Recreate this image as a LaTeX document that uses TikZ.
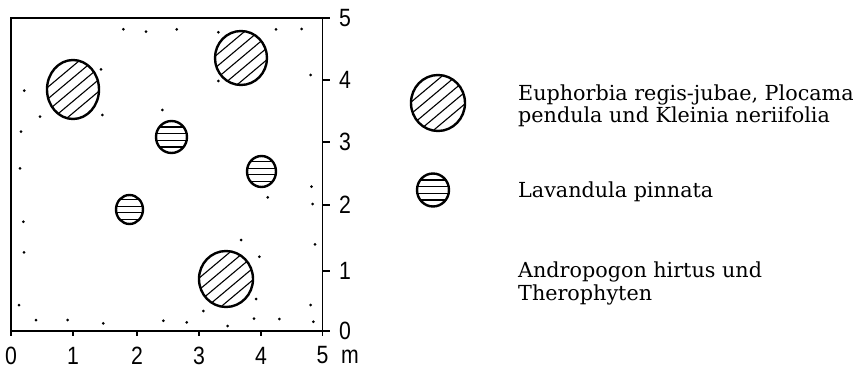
\documentclass[tikz,border=0pt]{standalone}
\usepackage{fontspec}
\setmainfont{DejaVu Serif}
\newfontfamily\axisfont{Liberation Sans}
\usetikzlibrary{shapes.geometric}
\begin{document}
\begin{tikzpicture}[x=1pt,y=-1pt,
  frameline/.style={line width=1.2pt,line cap=rect},
  tickline/.style={line width=1.2pt},
  axlabel/.style={font=\axisfont\fontsize{25}{25}\selectfont, xscale=0.85, inner sep=0pt},
  hatchline/.style={line width=1.1pt},
  bigshrub/.style={ellipse, draw, line width=2.4pt, inner sep=0pt,
    path picture={\foreach \d in {-18,-9,0,9,18}{
      \draw[hatchline, shift={(path picture bounding box.center)}]
        ({\d*0.643-38.3},{\d*0.766+32.15}) -- ++(76.6,-64.3);}}},
  smallshrub/.style={ellipse, draw, line width=2.4pt, inner sep=0pt,
    path picture={\foreach \d in {-10,-3.3,3.3,10}{
      \draw[hatchline, shift={(path picture bounding box.center)}]
        (-25,\d) -- (25,\d);}}},
  grass/.style={circle, fill, inner sep=0pt, minimum size=3pt},
  legtext/.style={font=\fontsize{20.7}{23}\selectfont, anchor=base west, inner sep=0pt, align=left}]
\useasboundingbox (0,0) rectangle (863,369);

% frame corners
\coordinate (tl) at (11,18);
\coordinate (tr) at (322.5,18);
\coordinate (bl) at (11,331);
\coordinate (br) at (322.5,331);
\draw[frameline] (tl) -- (tr) -- (br) -- (bl) -- cycle;

% right axis ticks and labels
\foreach \v/\y in {5/18,4/80,3/142,2/205,1/271,0/331}{
  \coordinate (ry\v) at (322.5,\y);
  \coordinate (rt\v) at (330,\y);
  \draw[tickline] (ry\v) -- (rt\v);
  \node[axlabel] (rl\v) at (345,\y) {\v};
}
% bottom axis ticks and labels
\foreach \v/\x in {0/11,1/73,2/137,3/199,4/261,5/322.5}{
  \coordinate (bx\v) at (\x,331);
  \coordinate (bt\v) at (\x,336);
  \draw[tickline] (bx\v) -- (bt\v);
  \node[axlabel] (bl\v) at (\x,355.5) {\v};
}
\node[axlabel, anchor=west] (unit) at (341,356.5) {m};

% shrubs in plot
\node[bigshrub, minimum width=52pt, minimum height=59pt] (e1) at (73,89.5) {};
\node[bigshrub, minimum width=52pt, minimum height=54pt] (e2) at (241,58) {};
\node[bigshrub, minimum width=54pt, minimum height=56pt] (e3) at (226,279) {};
\node[smallshrub, minimum width=31pt, minimum height=32pt] (l1) at (171.5,137) {};
\node[smallshrub, minimum width=29pt, minimum height=31pt] (l2) at (261.5,171.5) {};
\node[smallshrub, minimum width=27pt, minimum height=29pt] (l3) at (129.5,209.5) {};

% grass dots
\foreach \x/\y [count=\i] in {123.3/29.3,146/31.7,176.7/29.3,218.3/32.3,276/29.3,301.7/29,
  101/69.3,310.7/75,24.3/90.7,218.3/81,162.3/110,40/116.7,102.3/115,21/131.7,20/168.3,
  311.5/186.7,267.7/197.3,312.7/204,23.3/221.7,24/252.3,241/240,259.3/256.7,315/244.3,
  19/305,256/299,310.7/305,203.3/311,36/320,67.7/320,103.3/323.3,163.3/320.7,186.7/322.3,
  227.7/326,254/318.7,279.3/319,313.3/321.7}{
  \node[grass] (g\i) at (\x,\y) {};
}

% legend
\node[bigshrub, minimum width=54pt, minimum height=56pt] (k1) at (438,103) {};
\node[smallshrub, minimum width=32pt, minimum height=33pt] (k2) at (433,190) {};
\node[legtext] (t1) at (518,123) {Euphorbia regis-jubae, Plocama\\pendula und Kleinia neriifolia};
\node[legtext] (t2) at (518,197) {Lavandula pinnata};
\node[legtext] (t3) at (518,300) {Andropogon hirtus und\\Therophyten};
\end{tikzpicture}
\end{document}
